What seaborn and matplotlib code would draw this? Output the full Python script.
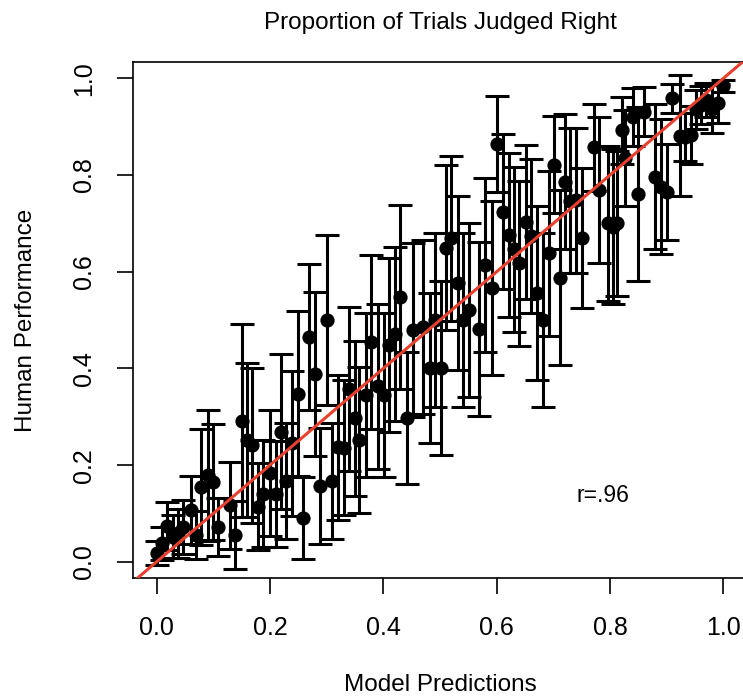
import matplotlib
matplotlib.use("Agg")
import matplotlib.pyplot as plt
import seaborn as sns
import pandas as pd

# ---- data ----
model_pred = [0.000, 0.009, 0.019, 0.029, 0.038, 0.047, 0.060, 0.069, 0.079, 0.090,
              0.099, 0.109, 0.129, 0.139, 0.150, 0.159, 0.169, 0.179, 0.188, 0.200,
              0.210, 0.219, 0.229, 0.239, 0.250, 0.258, 0.269, 0.279, 0.288, 0.300,
              0.310, 0.320, 0.330, 0.340, 0.350, 0.358, 0.370, 0.379, 0.391, 0.401,
              0.410, 0.420, 0.430, 0.441, 0.452, 0.470, 0.482, 0.491, 0.501, 0.510,
              0.520, 0.531, 0.540, 0.551, 0.568, 0.580, 0.591, 0.601, 0.611, 0.622,
              0.630, 0.640, 0.651, 0.660, 0.671, 0.681, 0.692, 0.701, 0.711, 0.721,
              0.730, 0.740, 0.751, 0.771, 0.780, 0.796, 0.805, 0.813, 0.821, 0.827,
              0.840, 0.849, 0.860, 0.880, 0.890, 0.900, 0.910, 0.923, 0.933, 0.942,
              0.951, 0.961, 0.970, 0.980, 0.990, 1.000]
human_perf = [0.019, 0.038, 0.074, 0.052, 0.059, 0.072, 0.107, 0.055, 0.155, 0.179,
              0.165, 0.072, 0.117, 0.055, 0.292, 0.252, 0.241, 0.114, 0.141, 0.184,
              0.140, 0.269, 0.168, 0.245, 0.348, 0.090, 0.465, 0.388, 0.157, 0.500,
              0.167, 0.237, 0.236, 0.357, 0.297, 0.252, 0.345, 0.455, 0.363, 0.345,
              0.448, 0.471, 0.548, 0.297, 0.479, 0.486, 0.400, 0.501, 0.400, 0.650,
              0.669, 0.576, 0.500, 0.521, 0.481, 0.614, 0.566, 0.864, 0.724, 0.676,
              0.646, 0.617, 0.703, 0.674, 0.556, 0.500, 0.638, 0.821, 0.588, 0.786,
              0.747, 0.748, 0.669, 0.857, 0.769, 0.700, 0.693, 0.700, 0.892, 0.835,
              0.919, 0.761, 0.931, 0.796, 0.776, 0.765, 0.959, 0.881, 0.879, 0.883,
              0.936, 0.945, 0.955, 0.936, 0.948, 0.984]
ci_half = [0.025, 0.035, 0.050, 0.045, 0.050, 0.055, 0.070, 0.050, 0.120, 0.135,
           0.120, 0.060, 0.090, 0.070, 0.200, 0.160, 0.160, 0.090, 0.110, 0.130,
           0.110, 0.160, 0.120, 0.150, 0.170, 0.085, 0.150, 0.170, 0.120, 0.175,
           0.120, 0.150, 0.140, 0.170, 0.160, 0.150, 0.170, 0.180, 0.170, 0.170,
           0.180, 0.180, 0.190, 0.137, 0.180, 0.180, 0.155, 0.180, 0.180, 0.170,
           0.170, 0.180, 0.180, 0.180, 0.180, 0.180, 0.180, 0.100, 0.160, 0.170,
           0.170, 0.170, 0.160, 0.160, 0.180, 0.180, 0.170, 0.100, 0.180, 0.140,
           0.150, 0.150, 0.145, 0.090, 0.150, 0.160, 0.160, 0.150, 0.070, 0.100,
           0.060, 0.180, 0.050, 0.150, 0.140, 0.100, 0.030, 0.125, 0.050, 0.060,
           0.040, 0.040, 0.035, 0.050, 0.040, 0.012]
x_ticks = [0.0, 0.2, 0.4, 0.6, 0.8, 1.0]
y_ticks = [0.0, 0.2, 0.4, 0.6, 0.8, 1.0]
tick_labels = ["0.0", "0.2", "0.4", "0.6", "0.8", "1.0"]
title = "Proportion of Trials Judged Right"
x_label = "Model Predictions"
y_label = "Human Performance"
r_text = "r=.96"

df = pd.DataFrame({"pred": model_pred, "human": human_perf, "ci": ci_half})

sns.set_theme(style="white")
plt.rcParams["font.family"] = ["Liberation Sans", "DejaVu Sans"]

W, H = 743, 696
fig = plt.figure(figsize=(W / 100, H / 100), dpi=100)
ax_left, ax_right, ax_top, ax_bottom = 133.3, 746.7, 62.3, 578.3
ax = fig.add_axes([ax_left / W, 1 - ax_bottom / H,
                   (ax_right - ax_left) / W, (ax_bottom - ax_top) / H])

ax.errorbar(df["pred"], df["human"], yerr=df["ci"], fmt="none",
            ecolor="black", elinewidth=2.2, capsize=8.5, capthick=2.2, zorder=2)
sns.scatterplot(data=df, x="pred", y="human", ax=ax, color="black",
                s=105, edgecolor="black", linewidth=0, zorder=3)
ax.axline((0, 0), slope=1, color="#e8402c", lw=2.2, zorder=4)

ax.set_xlim(-0.041, 1.041)
ax.set_ylim(-0.034, 1.033)
ax.set_xticks(x_ticks)
ax.set_xticklabels(tick_labels)
ax.set_yticks(y_ticks)
ax.set_yticklabels(tick_labels)
ax.set_xlabel("")
ax.set_ylabel("")

for s in ["top", "left", "bottom", "right"]:
    ax.spines[s].set_color("black")
    ax.spines[s].set_linewidth(1.2)

ax.tick_params(axis="both", length=11.5, width=1.2, labelsize=18,
               direction="out", colors="black", bottom=True, left=True)
ax.tick_params(axis="x", pad=16)
ax.tick_params(axis="y", pad=15, labelrotation=90)
for lab in ax.get_yticklabels():
    lab.set_va("center")

ax.text(0.787, 0.138, r_text, fontsize=16.5, ha="center", va="center",
        color="black")

fig.text(440 / W, 1 - 29 / H, title, fontsize=17.5, ha="center",
         va="baseline", color="black")
fig.text(440 / W, 1 - 691 / H, x_label, fontsize=17.5, ha="center",
         va="baseline", color="black")
fig.text(37 / W, 1 - 320 / H, y_label, fontsize=17.5, ha="right",
         va="center", rotation=90, color="black")

fig.savefig("out.png", dpi=100)
